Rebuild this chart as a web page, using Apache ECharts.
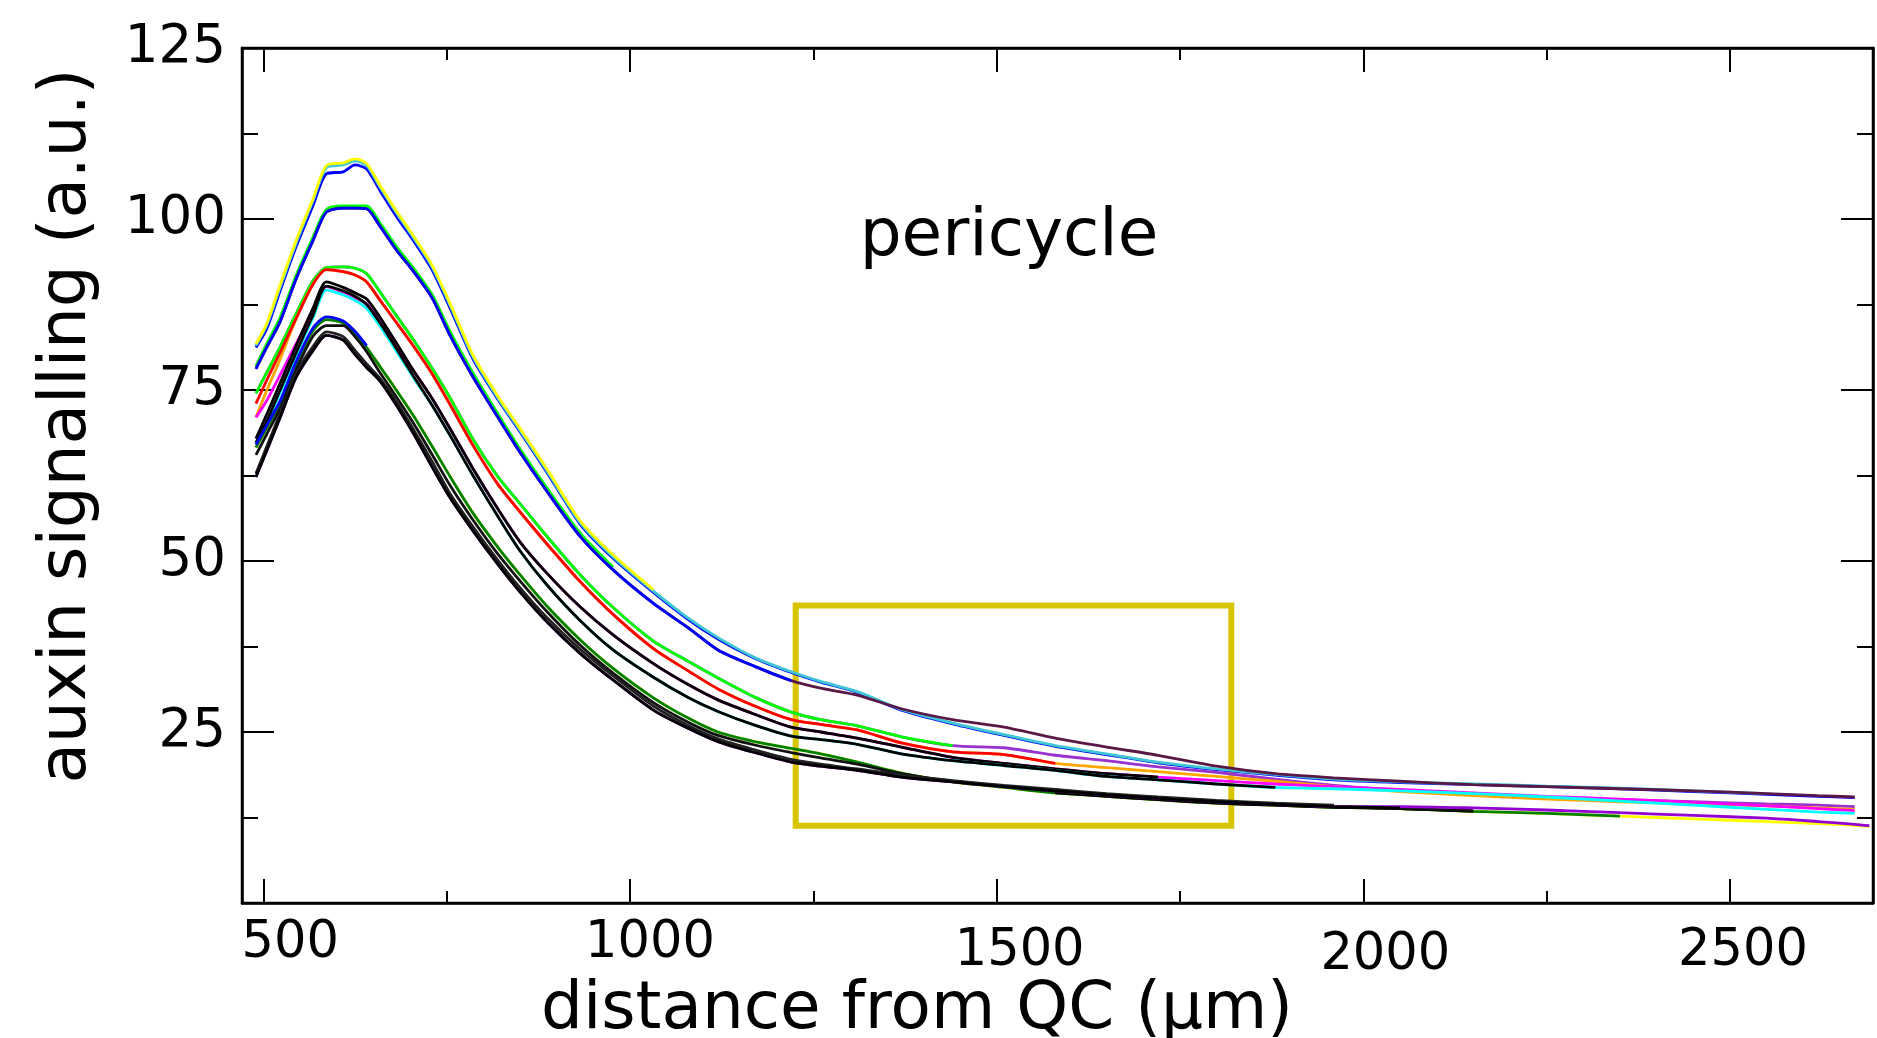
<!DOCTYPE html>
<html><head><meta charset="utf-8">
<script src="https://cdn.jsdelivr.net/npm/echarts@6/dist/echarts.min.js"></script>
<style>html,body{margin:0;padding:0;background:#fff}#c{width:1877px;height:1038px}</style>
</head><body><div id="c"></div>
<script>
// distance from QC (µm) sample positions
const distX = [490,505,523,545,568,586,609,625,641,660,682,705,730,755,786,820,850,886,932,977,1032,1080,1120,1170,1220,1260,1310,1370,1440,1510,1580,1650,1720,1800,1880,1960,2050,2150,2250,2350,2450,2550,2620,2670,2690];

const majorXTicks = [500,1000,1500,2000,2500];
const minorXTicks = [750,1250,1750,2250];
const xRange = [471, 2695];
const yRange = [0, 125];
const yStep = 25;
const boxCorners = [[1226, 43.5], [1820, 11.3]];

// highest bundle
const peakBlueA = [81.2,84.0,89.5,96.0,102.0,106.6,106.9,107.9,107.3,104.0,100.3,96.8,92.6,86.9,79.5,73.6,68.9,63.1,55.4,50.4,45.4,41.4,38.6,35.8,33.7,32.3,30.8,28.2,26.2,24.5,22.9,21.7,20.5,19.5,18.7,18.0,17.6,17.3,17.0,16.7,16.3,15.9,15.6,15.4];
const peakCyanA = [81.5,84.5,90.0,96.5,102.7,107.5,107.9,108.5,107.8,104.5,100.8,97.2,93.0,87.3,79.8,73.8,69.1,63.3,55.6,50.6,45.6,41.6,38.8,35.9,33.8,32.4,30.9,28.3,26.3,24.6,23.0,21.8,20.6,19.6,18.8,18.1,17.7,17.4,17.1,16.8,16.4,16.0];
const peakYellowA = [81.7,84.8,90.4,96.9,103.0,107.8,108.2,108.8,108.1,104.8,101.1,97.5,93.3,87.6,80.1,74.1,69.4,63.6,55.9,50.9,45.8];

// second bundle
const secondGreenB = [78.5,81.8,85.6,91.8,97.4,101.4,101.9,101.9,101.9,99.3,95.9,92.8,89.0,83.5,77.5,71.5,66.4,60.8,54.1,49.1];
const secondPlumB = [78.1,81.3,85.0,91.3,96.9,101.0,101.6,101.6,101.5,98.8,95.4,92.3,88.5,82.9,76.9,71.0,65.9,60.3,53.6,48.7,43.8,40.2,37.0,34.6,32.5,31.4,30.4,28.4,26.8,25.7,24.1,22.8,21.6,20.0,18.9,18.3,17.8,17.3,17.0,16.7,16.4,16.0,15.7,15.5];
const secondBlueB = [78.1,81.3,85.0,91.3,96.9,101.0,101.6,101.6,101.5,98.8,95.4,92.3,88.5,82.9,76.9,71.0,65.9,60.3,53.6,48.7,43.8,40.2,37.0,34.6,32.5];

// third bundle
const midPurpleC = [74.5,77.6,81.3,86.2,91.0,92.9,93.0,92.8,92.0,89.2,85.8,82.3,78.2,73.8,67.8,62.3,58.4,53.7,48.0,43.2,38.3,35.3,32.9,30.1,27.9,26.8,25.9,24.3,23.0,22.7,21.6,20.8,19.9,19.1,18.1,17.2,16.5,15.9,15.4,15.1,14.8,14.5,14.3,14.1];
const midGreenC = [74.5,77.6,81.3,86.2,91.0,92.9,93.0,92.8,92.0,89.2,85.8,82.3,78.2,73.8,67.8,62.3,58.4,53.7,48.0,43.2,38.3,35.3,32.9,30.1,27.9,26.8,25.9,24.3,23.0];
const midOrangeC = [71.0,75.0,79.5,85.5,90.5,92.6,92.3,91.8,90.8,88.0,84.8,81.4,77.4,72.8,66.9,61.2,57.2,52.6,47.0,42.2,37.2,33.9,31.3,28.8,26.8,26.1,25.3,23.4,22.1,21.7,20.4,19.8,19.2,18.5,17.8,17.0,16.3,15.7,15.2,14.8,14.5,14.2,13.9,13.7];
const midRedC = [73.0,76.5,80.5,85.5,90.5,92.6,92.3,91.8,90.8,88.0,84.8,81.4,77.4,72.8,66.9,61.2,57.2,52.6,47.0,42.2,37.2,33.9,31.3,28.8,26.8,26.1,25.3,23.4,22.1,21.7,20.4];

// fourth bundle
const lowMagentaD = [71.0,73.5,77.2,81.8,86.5,90.1,89.3,88.5,87.6,84.9,81.3,77.8,73.8,69.3,63.5,57.6,52.8,48.3,43.3,39.2,35.0,31.9,29.7,27.6,25.7,25.0,24.1,22.8,21.3,20.4,19.6,18.9,18.4,17.9,17.4,17.0,16.6,16.1,15.6,15.2,14.7,14.2,13.8,13.5];
const lowBlackD1 = [67.9,71.5,76.0,81.5,87.0,90.8,90.0,89.2,88.3,85.5,81.8,77.8,73.8,69.3,63.5,57.6,52.8,48.3,43.3,39.2,35.0,31.9,29.7,27.6,25.7,25.0,24.1,22.8,21.3,20.4,19.6,18.9,18.4];
const lowCyanD = [67.1,70.2,74.6,80.1,85.6,89.6,88.9,88.1,86.9,84.2,80.6,76.8,72.8,68.3,62.5,56.5,51.5,46.6,41.3,37.0,33.0,30.0,28.0,26.0,24.4,23.9,23.2,21.8,20.8,20.1,19.4,18.5,18.0,17.4,16.9,16.7,16.4,16.0,15.5,14.9,14.3,13.7,13.3,13.1];
const lowBlackD2 = [67.3,70.5,75.0,80.5,86.0,90.2,89.5,88.7,87.5,84.7,81.0,77.0,72.8,68.3,62.5,56.5,51.5,46.6,41.3,37.0,33.0,30.0,28.0,26.0,24.4,23.9,23.2,21.8,20.8,20.1,19.4,18.5,18.0,17.4,16.9];

// fifth bundle
const baseYellowE = [66.6,69.5,73.0,78.8,83.7,85.3,84.8,83.3,81.2,78.3,74.9,71.2,66.8,62.3,57.0,52.0,48.0,43.5,38.5,34.3,30.0,27.0,25.0,23.6,22.6,21.8,20.6,19.0,17.7,16.9,16.1,15.6,15.1,14.6,14.3,14.0,13.8,13.4,13.1,12.7,12.3,11.9,11.6,11.35,11.2];
const baseGreenE = [66.6,69.5,73.0,78.8,83.7,85.3,84.8,83.3,81.2,78.3,74.9,71.2,66.8,62.3,57.0,52.0,48.0,43.5,38.5,34.3,30.0,27.0,25.0,23.6,22.6,21.8,20.6,19.0,17.7,16.9,16.1,15.6,15.1,14.6,14.3,14.0,13.8,13.4,13.1,12.7];
const baseBlackE = [null,null,null,null,null,null,null,null,null,null,null,null,null,null,null,null,null,null,null,null,null,null,null,null,null,null,null,null,null,null,16.1,15.6,15.1,14.6,14.3,14.0,13.8,13.4];
const baseBlackE2 = [65.5,68.6,72.3,78.0,82.9,84.4,84.4,82.8,80.6,77.4,73.9,70.1,65.6,61.0,56.0,51.0,47.1,42.7,37.7,33.6,29.3,26.4,24.5,23.1,22.0,21.2,20.3,18.9,17.8,17.1,16.3,15.8,15.3,14.8,14.4,14.1,13.8,13.5];
const baseBlueE = [67.0,69.9,73.4,79.2,84.1,85.7,85.1,83.6,81.5];

// lowest bundle
const bottomPurpleF = [62.3,66.2,71.0,76.9,80.8,83.0,82.3,80.2,78.3,76.2,72.7,68.6,63.8,59.2,54.4,49.5,45.5,41.2,36.5,32.6,28.2,25.5,23.6,22.0,20.6,20.0,19.4,18.4,17.7,17.0,16.4,15.8,15.3,14.8,14.4,14.1,14.1,13.9,13.6,13.2,12.8,12.4,11.9,11.5,11.3];
const bottomBlackF2 = [62.8,66.8,71.6,77.5,81.4,83.5,82.8,80.8,78.8,76.6,73.2,69.2,64.6,59.8,55.0,50.1,46.1,41.8,37.1,33.2,28.8,25.9,24.0,22.4,21.0,20.3,19.6,18.7,17.9,17.2,16.6,16.0,15.5,15.0,14.6,14.3];
const bottomBlackF = [62.3,66.2,71.0,76.9,80.8,83.0,82.3,80.2,78.3,76.2,72.7,68.6,63.8,59.2,54.4,49.5,45.5,41.2,36.5,32.6,28.2,25.5,23.6,22.0,20.6,20.0,19.4,18.4,17.7,17.0,16.4,15.8,15.3,14.8,14.4,14.1,13.9];

const lineDefs = [
  [peakBlueA, '#0000ff'], [peakCyanA, '#3fc6d4'], [peakYellowA, '#ffff00'],
  [secondGreenB, '#00ff00'], [secondPlumB, '#5a1846'], [secondBlueB, '#0000ff'],
  [midPurpleC, '#9a32cd'], [midGreenC, '#00ff00'], [midOrangeC, '#ffa500'], [midRedC, '#ff0000'],
  [lowMagentaD, '#ff00ff'], [lowBlackD1, '#000000'], [lowCyanD, '#00ffff'], [lowBlackD2, '#000000'],
  [baseYellowE, '#ffff00'], [baseGreenE, '#008000'], [baseBlackE, '#000000'], [baseBlackE2, '#111111'], [baseBlueE, '#0000ff'],
  [bottomPurpleF, '#9400d3'], [bottomBlackF2, '#222222'], [bottomBlackF, '#000000']
];

const FONT = 'DejaVu Sans';
const labelShift = {500:[27,0],1000:[20,0],1500:[23,8],2000:[22,12],2500:[13,8]};
const rich = {};
majorXTicks.forEach(v => {
  const s = labelShift[v] || [0,0];
  rich['t' + v] = {fontSize: 51, fontFamily: FONT, color: '#000', padding: [s[1], 0, 0, 2 * s[0]]};
});

const series = lineDefs.map(([vals, color]) => ({
  type: 'line',
  data: vals.map((v, i) => v == null ? null : [distX[i], v]).filter(p => p),
  showSymbol: false, symbol: 'none', smooth: 0.25,
  lineStyle: {color: color, width: 2.8},
  itemStyle: {color: color},
  animation: false, silent: true
}));
series.push({
  type: 'line', data: [], z: 5, silent: true, animation: false,
  markArea: {
    silent: true,
    itemStyle: {color: 'rgba(0,0,0,0)', borderColor: '#d9c400', borderWidth: 6},
    data: [[{coord: boxCorners[0]}, {coord: boxCorners[1]}]]
  }
});

const xBase = {type: 'value', min: xRange[0], max: xRange[1], splitLine: {show: false}, gridIndex: 0};
const chart = echarts.init(document.getElementById('c'), null, {renderer: 'canvas'});
chart.setOption({
  backgroundColor: '#fff',
  animation: false,
  grid: {left: 242, right: 4, top: 48, bottom: 135, show: true, borderColor: '#000', borderWidth: 2.5, containLabel: false},
  xAxis: [
    Object.assign({}, xBase, {position: 'bottom',
      axisLine: {show: true, onZero: false, lineStyle: {color: '#000', width: 2.5}},
      axisTick: {show: true, inside: true, length: 24, lineStyle: {color: '#000', width: 2}, customValues: majorXTicks},
      axisLabel: {show: true, customValues: majorXTicks, margin: 15, fontSize: 51, fontFamily: FONT, color: '#000',
        formatter: v => '{t' + v + '|' + v + '}', rich: rich}}),
    Object.assign({}, xBase, {position: 'bottom',
      axisLine: {show: false, onZero: false},
      axisTick: {show: true, inside: true, length: 12, lineStyle: {color: '#000', width: 2}, customValues: minorXTicks},
      axisLabel: {show: false}}),
    Object.assign({}, xBase, {position: 'top',
      axisLine: {show: true, onZero: false, lineStyle: {color: '#000', width: 2.5}},
      axisTick: {show: true, inside: true, length: 24, lineStyle: {color: '#000', width: 2}, customValues: majorXTicks},
      axisLabel: {show: false}}),
    Object.assign({}, xBase, {position: 'top',
      axisLine: {show: false, onZero: false},
      axisTick: {show: true, inside: true, length: 12, lineStyle: {color: '#000', width: 2}, customValues: minorXTicks},
      axisLabel: {show: false}})
  ],
  yAxis: [
    {type: 'value', position: 'left', min: yRange[0], max: yRange[1], interval: yStep,
      splitLine: {show: false}, minorSplitLine: {show: false},
      axisLine: {show: true, onZero: false, lineStyle: {color: '#000', width: 2.5}},
      axisTick: {show: true, inside: true, length: 32, lineStyle: {color: '#000', width: 2}},
      minorTick: {show: true, splitNumber: 2, length: 16, lineStyle: {color: '#000', width: 2}},
      axisLabel: {show: true, margin: 16, fontSize: 53, fontFamily: FONT, color: '#000',
        formatter: v => v === 0 ? '' : String(v)}},
    {type: 'value', position: 'right', min: yRange[0], max: yRange[1], interval: yStep,
      splitLine: {show: false}, minorSplitLine: {show: false},
      axisLine: {show: true, onZero: false, lineStyle: {color: '#000', width: 2.5}},
      axisTick: {show: true, inside: true, length: 32, lineStyle: {color: '#000', width: 2}},
      minorTick: {show: true, splitNumber: 2, length: 16, lineStyle: {color: '#000', width: 2}},
      axisLabel: {show: false}}
  ],
  graphic: [
    {type: 'text', x: 68, y: 426, rotation: Math.PI / 2, silent: true,
      style: {text: 'auxin signalling (a.u.)', fontSize: 66, fontFamily: FONT, fill: '#000',
        align: 'center', verticalAlign: 'middle', textAlign: 'center', textVerticalAlign: 'middle'}},
    {type: 'text', x: 917, y: 1011, silent: true,
      style: {text: 'distance from QC (µm)', fontSize: 66, fontFamily: FONT, fill: '#000',
        align: 'center', verticalAlign: 'middle', textAlign: 'center', textVerticalAlign: 'middle'}},
    {type: 'text', x: 1009, y: 238, silent: true,
      style: {text: 'pericycle', fontSize: 66, fontFamily: FONT, fill: '#000',
        align: 'center', verticalAlign: 'middle', textAlign: 'center', textVerticalAlign: 'middle'}}
  ],
  series: series
});
</script>
</body></html>
